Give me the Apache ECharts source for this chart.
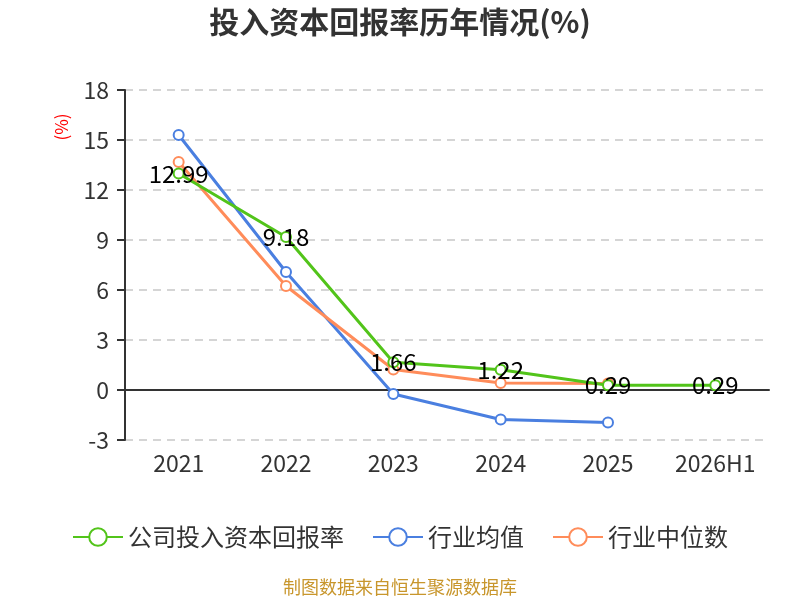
<!DOCTYPE html>
<html>
<head>
<meta charset="utf-8">
<script src="https://cdn.jsdelivr.net/npm/echarts@6/dist/echarts.min.js"></script>
<style>
  html, body { margin: 0; padding: 0; background: #fff; }
  #main { width: 800px; height: 600px; }
</style>
</head>
<body>
<div id="main"></div>
<script>
// 数据
var years = ['2021', '2022', '2023', '2024', '2025', '2026H1'];
var companyRoic = [12.99, 9.18, 1.66, 1.22, 0.29, 0.29];
var industryAvg = [15.3, 7.08, -0.24, -1.77, -1.95, null];
var industryMedian = [13.68, 6.24, 1.23, 0.42, 0.39, null];
var yTicks = { min: -3, max: 18, interval: 3 };

var font = '"Noto Sans CJK SC", "Noto Sans", sans-serif';

var chart = echarts.init(document.getElementById('main'));

var option = {
    backgroundColor: '#fff',
    title: {
        text: '投入资本回报率历年情况(%)',
        left: 'center',
        top: 2,
        textStyle: { fontSize: 30, fontWeight: 'bold', color: '#333', fontFamily: font }
    },
    legend: {
        bottom: 46,
        left: 'center',
        itemWidth: 50,
        itemHeight: 22,
        itemGap: 28,
        textStyle: { fontSize: 24, color: '#333', fontFamily: font },
        data: ['公司投入资本回报率', '行业均值', '行业中位数']
    },
    color: ['#52c41a', '#4a7fe0', '#ff8c5a'],
    graphic: [
        {
            type: 'text',
            x: 62, y: 127,
            rotation: Math.PI / 2,
            style: { text: '(%)', fill: '#ff0000', font: '17px ' + font, textAlign: 'center', textVerticalAlign: 'middle' }
        },
        {
            type: 'text',
            left: 'center',
            top: 578,
            style: { text: '制图数据来自恒生聚源数据库', fill: '#c8962c', font: '18px ' + font }
        }
    ],
    grid: { left: 125, right: 31, top: 90, bottom: 160 },
    xAxis: {
        type: 'category',
        data: years,
        boundaryGap: true,
        axisLine: { onZero: true, lineStyle: { color: '#333', width: 2 } },
        axisTick: { length: 8, lineStyle: { color: '#333', width: 2 } },
        axisLabel: { margin: 12, fontSize: 23, color: '#333', fontFamily: font }
    },
    yAxis: {
        type: 'value',
        min: yTicks.min,
        max: yTicks.max,
        interval: yTicks.interval,
        axisLine: { show: true, lineStyle: { color: '#333', width: 2 } },
        axisTick: { show: true, length: 8, lineStyle: { color: '#333', width: 2 } },
        axisLabel: { fontSize: 23, color: '#333', margin: 16, fontFamily: font },
        splitLine: { lineStyle: { type: [8, 6], color: '#c8c8c8', width: 1.5 } }
    },
    series: [
        {
            name: '公司投入资本回报率',
            type: 'line',
            data: companyRoic,
            symbol: 'emptyCircle',
            symbolSize: 10,
            lineStyle: { width: 3 },
            z: 3,
            label: {
                show: true,
                position: 'inside',
                color: '#000',
                fontSize: 24,
                fontFamily: font
            }
        },
        {
            name: '行业均值',
            type: 'line',
            data: industryAvg,
            symbol: 'emptyCircle',
            symbolSize: 10,
            lineStyle: { width: 3 },
            z: 2
        },
        {
            name: '行业中位数',
            type: 'line',
            data: industryMedian,
            symbol: 'emptyCircle',
            symbolSize: 10,
            lineStyle: { width: 3 },
            z: 2
        }
    ]
};

chart.setOption(option);
</script>
</body>
</html>
